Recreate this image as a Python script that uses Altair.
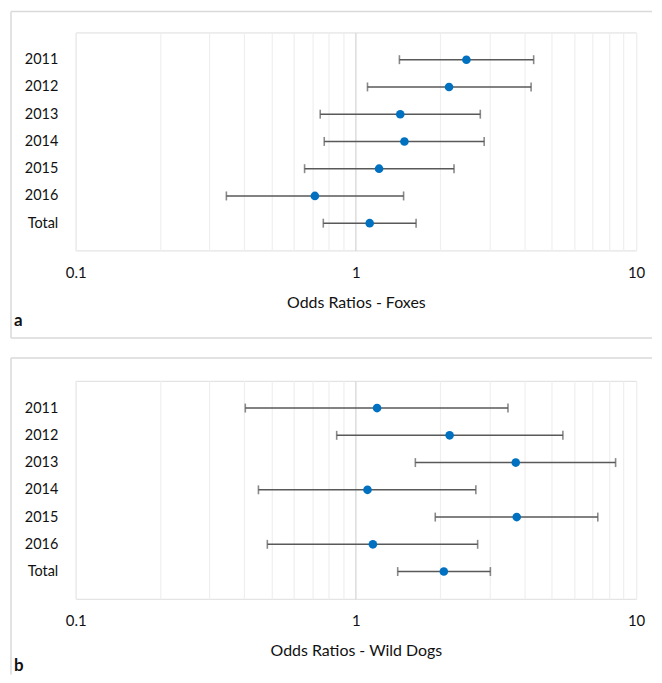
import altair as alt
import pandas as pd

years = ["2011", "2012", "2013", "2014", "2015", "2016", "Total"]
fox_or = [2.48, 2.15, 1.44, 1.49, 1.21, 0.714, 1.12]
fox_lo = [1.43, 1.10, 0.746, 0.771, 0.656, 0.345, 0.765]
fox_hi = [4.31, 4.22, 2.78, 2.87, 2.24, 1.48, 1.64]
dog_or = [1.19, 2.16, 3.72, 1.10, 3.75, 1.15, 2.06]
dog_lo = [0.403, 0.854, 1.63, 0.449, 1.92, 0.483, 1.41]
dog_hi = [3.49, 5.48, 8.45, 2.68, 7.30, 2.72, 3.02]
tick_values = [0.1, 0.2, 0.3, 0.4, 0.5, 0.6, 0.7, 0.8, 0.9,
               1, 2, 3, 4, 5, 6, 7, 8, 9, 10]

FONT = "Lato"
W, H = 563, 219
TXT = "#111111"


def panel(orv, lo, hi, title, letter, frame_top, frame_bottom, draw_bottom, letter_y):
    df = pd.DataFrame({"year": years, "or": orv, "lo": lo, "hi": hi})
    xscale = alt.Scale(type="log", domain=[0.1, 10], nice=False)
    yenc = alt.Y("year:N", sort=years, title=None,
                 scale=alt.Scale(type="point", padding=1),
                 axis=alt.Axis(labelFontSize=14.5, labelFont=FONT, labelColor=TXT,
                               labelPadding=18, ticks=False, domain=False, grid=False))
    xaxis = alt.Axis(values=tick_values, title=title, titleFontSize=16, titleFont=FONT,
                     titleFontWeight="normal", titleColor=TXT, titlePadding=14,
                     labelFontSize=15, labelFont=FONT, labelColor=TXT, labelPadding=15,
                     ticks=False, domain=False, labelFlush=False,
                     labelExpr="datum.value == 0.1 ? '0.1' : datum.value == 1 ? '1' : datum.value == 10 ? '10' : ''",
                     gridColor={"condition": {"test": "datum.value === 1", "value": "#d4d4d4"},
                                "value": "#efefef"},
                     gridWidth=1.2)
    base = alt.Chart(df)
    rule = base.mark_rule(color="#595959", strokeWidth=1.6).encode(
        x=alt.X("lo:Q", scale=xscale, axis=xaxis), x2="hi:Q", y=yenc)
    tlo = base.mark_tick(color="#595959", size=9, thickness=1.6).encode(
        x=alt.X("lo:Q", scale=xscale), y=yenc)
    thi = base.mark_tick(color="#595959", size=9, thickness=1.6).encode(
        x=alt.X("hi:Q", scale=xscale), y=yenc)
    pts = base.mark_circle(color="#0070C0", opacity=1, size=75).encode(
        x=alt.X("or:Q", scale=xscale), y=yenc)

    one = alt.Chart(pd.DataFrame({"k": [letter]}))
    fr_top = one.mark_rule(color="#d9d9d9", strokeWidth=1.5).encode(
        x=alt.value(-65), x2=alt.value(579), y=alt.value(frame_top))
    fr_left = one.mark_rule(color="#d9d9d9", strokeWidth=1.5).encode(
        x=alt.value(-65), y=alt.value(frame_top), y2=alt.value(frame_bottom))
    layers = [fr_top, fr_left]
    if draw_bottom:
        fr_bot = one.mark_rule(color="#d9d9d9", strokeWidth=1.5).encode(
            x=alt.value(-65), x2=alt.value(579), y=alt.value(frame_bottom))
        layers.append(fr_bot)
    lab = one.mark_text(font=FONT, fontSize=17, fontWeight="bold", color=TXT,
                        align="left", baseline="alphabetic").encode(
        text="k:N", x=alt.value(-62), y=alt.value(letter_y))
    layers.append(lab)
    return alt.layer(*layers, rule, tlo, thi, pts).properties(width=W, height=H)


a = panel(fox_or, fox_lo, fox_hi, "Odds Ratios - Foxes", "a", -21, 307, True, 295)
b = panel(dog_or, dog_lo, dog_hi, "Odds Ratios - Wild Dogs", "b", -23, 295, False, 292)

chart = alt.vconcat(a, b, spacing=131, bounds="flush").properties(
    padding={"left": 1, "top": 0, "right": 0, "bottom": 0}
).configure_view(stroke="#d9d9d9", strokeWidth=2).configure(background="white")

chart.save("out.html", embed_options={"renderer": "svg", "actions": False})
